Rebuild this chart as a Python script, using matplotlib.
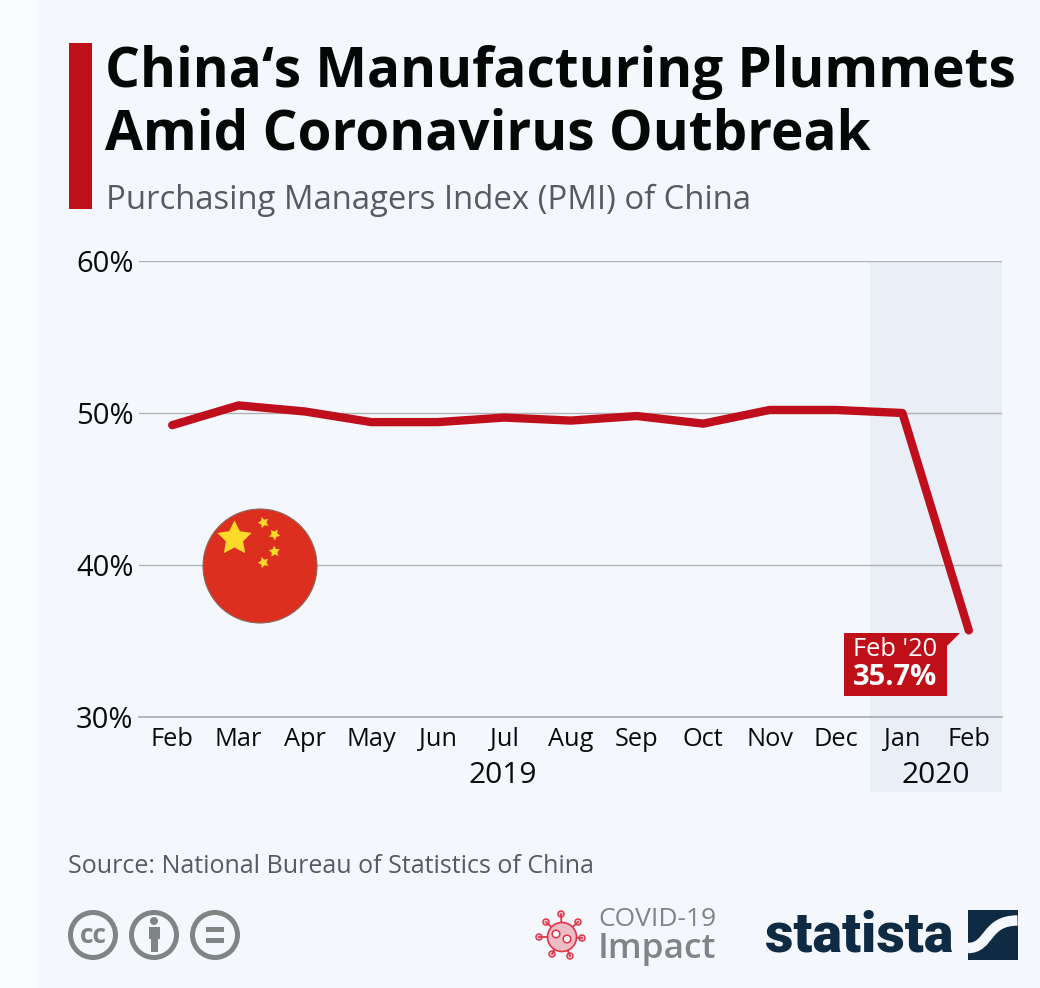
import matplotlib
matplotlib.use("Agg")
import matplotlib.pyplot as plt
from matplotlib.patches import Circle, Rectangle, Polygon, PathPatch
from matplotlib.path import Path as MplPath
import numpy as np

plt.rcParams["font.family"] = ["Open Sans", "DejaVu Sans"]

# chart data
months = ["Feb", "Mar", "Apr", "May", "Jun", "Jul", "Aug", "Sep", "Oct", "Nov", "Dec", "Jan", "Feb"]
pmi = [49.2, 50.5, 50.1, 49.4, 49.4, 49.7, 49.5, 49.8, 49.3, 50.2, 50.2, 50.0, 35.7]
y_ticks = [30, 40, 50, 60]
y_labels = ["30%", "40%", "50%", "60%"]

BG = "#f4f8fc"
STRIP = "#fafcff"
RED = "#bf101a"
LINE_RED = "#c00f1c"
SHADE = "#e9eef7"
DARK = "#0a0c0c"
GREY = "#555b5f"
ICON = "#7f8585"
NAVY = "#0f2a43"
VIRUS = "#e0364a"

W, H = 1040, 988

fig = plt.figure(figsize=(W / 100, H / 100), dpi=100, facecolor=BG)

# overlay in pixel coordinates for everything around the plot
bg = fig.add_axes([0, 0, 1, 1], zorder=0)
bg.set_xlim(0, W)
bg.set_ylim(H, 0)
bg.axis("off")

top = fig.add_axes([0, 0, 1, 1], zorder=3)
top.set_xlim(0, W)
top.set_ylim(H, 0)
top.axis("off")
top.patch.set_alpha(0)

bg.add_patch(Rectangle((0, 0), 38, H, fc=STRIP, ec="none"))
bg.add_patch(Rectangle((870, 261), 132, 531, fc=SHADE, ec="none"))

# header
top.add_patch(Rectangle((69, 43), 23, 166, fc=RED, ec="none"))
top.text(105, 72, "China\u2018s Manufacturing Plummets", fontsize=39.5, fontweight="bold",
         color="#050707", va="center", ha="left")
top.text(105, 135, "Amid Coronavirus Outbreak", fontsize=39.5, fontweight="bold",
         color="#050707", va="center", ha="left")
top.text(106, 200, "Purchasing Managers Index (PMI) of China", fontsize=23.7,
         color=GREY, va="center", ha="left")

# main plot
ax = fig.add_axes([139 / W, 1 - 717 / H, (1002 - 139) / W, (717 - 261) / H], zorder=1)
ax.patch.set_alpha(0)
x = np.arange(len(months))
ax.set_xlim(-0.5, len(months) - 0.5)
ax.set_ylim(30, 60)
ax.set_yticks(y_ticks)
ax.set_yticklabels(y_labels, fontsize=21, color=DARK)
ax.set_xticks(x)
ax.set_xticklabels(months, fontsize=18.3, color=DARK)
ax.tick_params(axis="both", length=0)
ax.tick_params(axis="x", pad=7.5)
ax.tick_params(axis="y", pad=4)
ax.grid(axis="y", color="#b0b2b4", lw=1)
ax.set_axisbelow(True)
for s in ["top", "right", "left"]:
    ax.spines[s].set_visible(False)
ax.spines["bottom"].set_color("#a8acb2")
ax.spines["bottom"].set_linewidth(1.2)
ax.plot(x, pmi, color=LINE_RED, lw=6, solid_capstyle="round", solid_joinstyle="round", zorder=3)

# year labels
top.text(503, 775, "2019", fontsize=21.5, color=DARK, ha="center", va="center")
top.text(936, 775, "2020", fontsize=21.5, color=DARK, ha="center", va="center")

# callout
top.add_patch(Rectangle((844, 633), 103, 63, fc=RED, ec="none"))
top.add_patch(Polygon([(946, 633), (960, 633), (946, 647)], fc=RED, ec="none"))
top.text(895.5, 649, "Feb '20", fontsize=18.3, color="white", ha="center", va="center")
top.text(895.5, 677, "35.7%", fontsize=21, fontweight="bold", color="white", ha="center", va="center")

# flag
top.add_patch(Circle((260, 566), 57, fc="#dc2f1f", ec="#8a6a60", lw=0.8))
top.plot([234], [538], marker=(5, 1, 0), ms=26, color="#fdd92a", mec="none")
for sx, sy, ang in [(263, 522, 20), (274, 534, 40), (274, 551, 5), (263, 562, 20)]:
    top.plot([sx], [sy], marker=(5, 1, ang), ms=8.5, color="#fdd92a", mec="none")

# source
top.text(68, 866, "Source: National Bureau of Statistics of China", fontsize=18,
         color=GREY, ha="left", va="center")

# cc icons
for cx in [93, 154, 215]:
    top.add_patch(Circle((cx, 935), 22.5, fc="none", ec=ICON, lw=3.6))
top.text(93, 935, "cc", fontsize=19, fontweight="bold", color=ICON, ha="center", va="center")
top.add_patch(Circle((154, 921), 4, fc=ICON, ec="none"))
top.add_patch(Rectangle((148.5, 927), 11, 12, fc=ICON, ec="none"))
top.add_patch(Rectangle((150.5, 938), 7, 14, fc=ICON, ec="none"))
top.add_patch(Rectangle((206, 927), 18, 5, fc=ICON, ec="none"))
top.add_patch(Rectangle((206, 938), 18, 5, fc=ICON, ec="none"))

# covid icon
vx, vy = 562, 937
for sx, sy in [(561, 914), (578, 922), (582, 938), (570, 956), (552, 954), (539, 937), (546, 922)]:
    top.plot([vx, sx], [vy, sy], color=VIRUS, lw=1.3)
    top.add_patch(Circle((sx, sy), 3, fc="#f4d5da", ec=VIRUS, lw=1.1))
top.add_patch(Circle((vx, vy), 14.5, fc="#eebcc4", ec=VIRUS, lw=1.2, zorder=3))
top.add_patch(Circle((556, 934), 3.8, fc=BG, ec=VIRUS, lw=1.1, zorder=4))
top.add_patch(Circle((567, 939), 3.8, fc=BG, ec=VIRUS, lw=1.1, zorder=4))

top.text(598, 926, "COVID-19", fontsize=19, color="#808486", ha="left", va="baseline")
top.text(598, 958, "Impact", fontsize=25.5, fontweight="semibold", color="#808486", ha="left", va="baseline")

# statista logo
top.text(765, 936, "statista", fontsize=40, fontweight="black", family="Roboto",
         color=NAVY, ha="left", va="center")
top.add_patch(Rectangle((968, 910), 49.5, 49.5, fc=NAVY, ec="none"))
swoosh = MplPath(
    [(968, 948), (990, 948), (985, 920.5), (1017.5, 920.5)],
    [MplPath.MOVETO, MplPath.CURVE4, MplPath.CURVE4, MplPath.CURVE4],
)
top.add_patch(PathPatch(swoosh, fc="none", ec=BG, lw=7.5, capstyle="butt", zorder=4))

fig.savefig("out.png", dpi=100, facecolor=BG)
